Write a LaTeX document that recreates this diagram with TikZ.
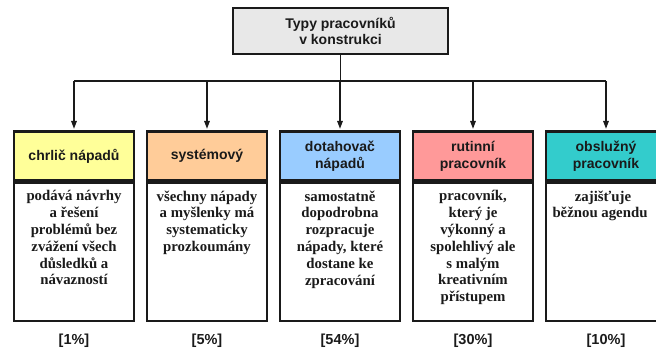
\documentclass[tikz,border=0pt]{standalone}
\usepackage{fontspec}
\setmainfont{Liberation Serif}
\newfontfamily\headfont{Liberation Sans}
\usetikzlibrary{arrows.meta}

\definecolor{cYellow}{HTML}{FFFF99}
\definecolor{cOrange}{HTML}{FFCC99}
\definecolor{cBlue}{HTML}{99CCFF}
\definecolor{cPink}{HTML}{FF9999}
\definecolor{cTeal}{HTML}{33CCCC}
\definecolor{cGray}{HTML}{E8E8E8}
\definecolor{cInk}{HTML}{1A1A1A}

\tikzset{
  titlebox/.style={draw=cInk, line width=2.2pt, fill=cGray,
    minimum width=215pt, minimum height=46pt, align=center,
    font=\headfont\bfseries\fontsize{14}{15.5}\selectfont, text=cInk},
  headbox/.style={draw=cInk, line width=2.2pt,
    minimum width=120pt, minimum height=49pt, align=center,
    font=\headfont\bfseries\fontsize{14}{17}\selectfont, text=cInk},
  bodybox/.style={draw=cInk, line width=2.2pt, fill=white, anchor=north,
    minimum width=120pt, inner xsep=3pt, inner ysep=8pt,
    font=\bfseries\fontsize{14.8}{16.8}\selectfont, text=cInk},
  pctlabel/.style={font=\headfont\bfseries\fontsize{14.5}{16}\selectfont, text=cInk},
  conn/.style={draw=cInk, line width=1.5pt},
  arr/.style={conn, -{Triangle[length=8pt, width=5.5pt]}, shorten >=1.5pt}
}

% body text, top aligned in a box of fixed height
\newcommand{\bodytext}[1]{\parbox[t][122pt][t]{112pt}{\centering #1}}

\begin{document}
\begin{tikzpicture}[x=1pt, y=-1pt]
  \useasboundingbox (0,0) rectangle (656,354);

  % title
  \node[titlebox] (title) at (340.5,31) {Typy pracovníků\\v konstrukci};

  % category headers
  \node[headbox, fill=cYellow] (h1) at (74,156)  {chrlič nápadů};
  \node[headbox, fill=cOrange] (h2) at (207,156) {systémový};
  \node[headbox, fill=cBlue]   (h3) at (340,156) {dotahovač\\nápadů};
  \node[headbox, fill=cPink]   (h4) at (473,156) {rutinní\\pracovník};
  \node[headbox, fill=cTeal]   (h5) at (606,156) {obslužný\\pracovník};

  % descriptions
  \node[bodybox] (b1) at (h1.south) {\bodytext{podává návrhy\\a řešení\\problémů bez\\zvážení všech\\důsledků a\\návazností}};
  \node[bodybox] (b2) at (h2.south) {\bodytext{všechny nápady\\a myšlenky má\\systematicky\\prozkoumány}};
  \node[bodybox] (b3) at (h3.south) {\bodytext{samostatně\\dopodrobna\\rozpracuje\\nápady, které\\dostane ke\\zpracování}};
  \node[bodybox] (b4) at (h4.south) {\bodytext{pracovník,\\který je\\výkonný a\\spolehlivý ale\\s malým\\kreativním\\přístupem}};
  \node[bodybox] (b5) at (h5.south) {\bodytext{\hspace*{-6pt}zajišťuje\\\hspace*{-12pt}běžnou agendu}};

  % shares
  \node[pctlabel] (p1) at (74,341)  {[1\%]};
  \node[pctlabel] (p2) at (207,341) {[5\%]};
  \node[pctlabel] (p3) at (340,341) {[54\%]};
  \node[pctlabel] (p4) at (473,341) {[30\%]};
  \node[pctlabel] (p5) at (606,341) {[10\%]};

  % distribution bus
  \coordinate (bus) at (340,81);
  \draw[conn] (title.south) -- (title.south |- bus);
  \draw[conn] (h1.north |- bus) -- (h5.north |- bus);
  \foreach \i in {1,...,5}
    \draw[arr] (h\i.north |- bus) -- (h\i.north);
\end{tikzpicture}
\end{document}
